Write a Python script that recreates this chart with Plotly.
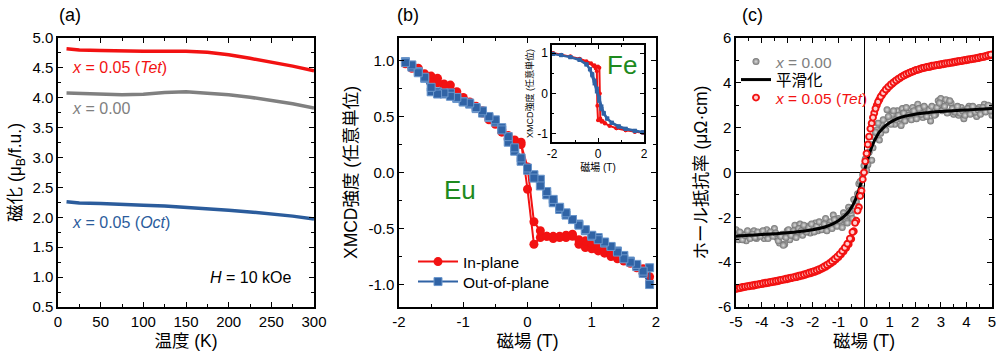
import plotly.graph_objects as go

FONT = "Liberation Sans, Arial, Noto Sans CJK JP, sans-serif"

# ---------------- Panel (a): magnetization vs temperature ----------------
temp_K = [10, 25, 50, 75, 100, 125, 150, 175, 200, 225, 250, 275, 300]
m_tet = [4.82, 4.80, 4.79, 4.78, 4.78, 4.78, 4.78, 4.76, 4.72, 4.66, 4.60, 4.53, 4.45]
m_x000 = [4.08, 4.07, 4.06, 4.05, 4.06, 4.09, 4.10, 4.08, 4.05, 4.01, 3.96, 3.90, 3.83]
m_oct = [2.26, 2.24, 2.23, 2.21, 2.20, 2.19, 2.17, 2.15, 2.12, 2.09, 2.06, 2.02, 1.97]
a_xticks = [0, 50, 100, 150, 200, 250, 300]
a_xticktext = ["0", "50", "100", "150", "200", "250", "300"]
a_yticks = [0.5, 1.0, 1.5, 2.0, 2.5, 3.0, 3.5, 4.0, 4.5, 5.0]
a_yticktext = ["0.5", "1.0", "1.5", "2.0", "2.5", "3.0", "3.5", "4.0", "4.5", "5.0"]

# ---------------- Panel (b): Eu XMCD hysteresis ----------------
field_b_up = [-1.9, -1.8, -1.7, -1.6, -1.5, -1.4, -1.3, -1.2, -1.1, -1.0, -0.9, -0.8, -0.7,
              -0.6, -0.5, -0.4, -0.3, -0.2, -0.1, 0.0, 0.1, 0.2, 0.3, 0.4, 0.5, 0.6, 0.7,
              0.8, 0.9, 1.0, 1.1, 1.2, 1.3, 1.4, 1.5, 1.6, 1.7, 1.8, 1.9]
field_b_down = [1.9, 1.8, 1.7, 1.6, 1.5, 1.4, 1.3, 1.2, 1.1, 1.0, 0.9, 0.8, 0.7, 0.6, 0.5,
                0.4, 0.3, 0.2, 0.1, 0.0, -0.1, -0.2, -0.3, -0.4, -0.5, -0.6, -0.7, -0.8,
                -0.9, -1.0, -1.1, -1.2, -1.3, -1.4, -1.5, -1.6, -1.7, -1.8, -1.9]
eu_in_up = [0.99, 0.95, 0.93, 0.88, 0.86, 0.84, 0.79, 0.78, 0.72, 0.67, 0.63, 0.59, 0.55,
            0.50, 0.44, 0.36, 0.33, 0.29, 0.27, -0.15, -0.64, -0.58, -0.57, -0.57, -0.58,
            -0.56, -0.55, -0.64, -0.67, -0.68, -0.70, -0.72, -0.75, -0.77, -0.79, -0.81,
            -0.83, -0.86, -0.98]
eu_in_down = [-0.93, -0.90, -0.85, -0.80, -0.78, -0.74, -0.72, -0.69, -0.65, -0.63, -0.61,
              -0.60, -0.57, -0.58, -0.57, -0.59, -0.57, -0.52, -0.44, 0.05, 0.25, 0.27,
              0.30, 0.38, 0.43, 0.47, 0.53, 0.57, 0.62, 0.65, 0.68, 0.73, 0.76, 0.80, 0.80,
              0.86, 0.90, 0.93, 0.97]
eu_out_up = [0.99, 0.94, 0.90, 0.84, 0.72, 0.72, 0.70, 0.71, 0.66, 0.63, 0.61, 0.57, 0.53,
             0.49, 0.45, 0.40, 0.27, 0.19, 0.10, 0.02, -0.02, -0.06, -0.20, -0.27, -0.33,
             -0.38, -0.42, -0.46, -0.52, -0.57, -0.58, -0.63, -0.66, -0.70, -0.74, -0.79,
             -0.84, -0.90, -1.00]
eu_out_down = [-0.85, -0.88, -0.82, -0.80, -0.77, -0.71, -0.66, -0.62, -0.60, -0.56, -0.51,
               -0.47, -0.42, -0.36, -0.31, -0.24, -0.17, -0.12, -0.05, 0.04, 0.13, 0.22,
               0.32, 0.38, 0.47, 0.50, 0.55, 0.58, 0.62, 0.63, 0.67, 0.68, 0.71, 0.70, 0.76,
               0.85, 0.89, 0.96, 0.98]
b_xticks = [-2, -1, 0, 1, 2]
b_xticktext = ["-2", "-1", "0", "1", "2"]
b_yticks = [-1.0, -0.5, 0.0, 0.5, 1.0]
b_yticktext = ["-1.0", "-0.5", "0.0", "0.5", "1.0"]

# ---------------- Inset: Fe XMCD hysteresis ----------------
fe_in_x = [-1.95, -1.6, -1.2, -0.8, -0.5, -0.3, -0.15, 0.0, 0.06, 0.08, 0.1, 0.2, 0.3, 0.5,
           0.8, 1.2, 1.6, 1.95,
           1.95, 1.6, 1.2, 0.8, 0.5, 0.3, 0.15, 0.0, -0.03, -0.05, -0.1, -0.2, -0.4, -0.8,
           -1.2, -1.6, -1.95]
fe_in_y = [1.0, 0.96, 0.92, 0.86, 0.80, 0.75, 0.70, 0.67, 0.64, 0.0, -0.62, -0.68, -0.73,
           -0.80, -0.86, -0.91, -0.94, -0.97,
           -0.97, -0.95, -0.91, -0.86, -0.80, -0.74, -0.70, -0.66, -0.30, 0.55, 0.62, 0.68,
           0.75, 0.85, 0.91, 0.95, 0.99]
fe_out_x = [-1.95, -1.6, -1.2, -0.8, -0.5, -0.35, -0.25, -0.15, -0.05, 0.05, 0.15, 0.25, 0.4,
            0.6, 0.9, 1.2, 1.6, 1.95,
            1.95, 1.6, 1.2, 0.9, 0.6, 0.4, 0.25, 0.15, 0.05, -0.05, -0.15, -0.25, -0.35,
            -0.5, -0.8, -1.2, -1.6, -1.95]
fe_out_y = [0.98, 0.95, 0.90, 0.83, 0.72, 0.60, 0.45, 0.25, 0.05, -0.18, -0.38, -0.50,
            -0.62, -0.72, -0.81, -0.87, -0.92, -0.96,
            -0.96, -0.93, -0.88, -0.82, -0.73, -0.62, -0.48, -0.32, -0.10, 0.12, 0.32,
            0.48, 0.60, 0.72, 0.84, 0.90, 0.95, 0.98]
in_xticks = [-2, 0, 2]
in_xticktext = ["-2", "0", "2"]
in_yticks = [-1, 0, 1]
in_yticktext = ["-1", "0", "1"]

# ---------------- Panel (c): Hall resistivity ----------------
field_c_a = [-5.0, -4.9, -4.8, -4.7, -4.6, -4.5, -4.4, -4.3, -4.2, -4.1, -4.0, -3.9, -3.8,
             -3.7, -3.6, -3.5, -3.4, -3.3, -3.2, -3.1, -3.0, -2.9, -2.8, -2.7, -2.6, -2.5,
             -2.4, -2.3, -2.2, -2.1, -2.0, -1.9, -1.8, -1.7, -1.6, -1.5, -1.4, -1.3, -1.2,
             -1.1, -1.0, -0.9, -0.8, -0.7, -0.6, -0.5, -0.4, -0.3, -0.2, -0.1, 0.0, 0.1,
             0.2, 0.3, 0.4, 0.5, 0.6, 0.7, 0.8, 0.9, 1.0, 1.1, 1.2, 1.3, 1.4, 1.5, 1.6,
             1.7, 1.8, 1.9, 2.0, 2.1, 2.2, 2.3, 2.4, 2.5, 2.6, 2.7, 2.8, 2.9, 3.0, 3.1,
             3.2, 3.3, 3.4, 3.5, 3.6, 3.7, 3.8, 3.9, 4.0, 4.1, 4.2, 4.3, 4.4, 4.5, 4.6,
             4.7, 4.8, 4.9, 5.0]
field_c_b = [-4.95, -4.85, -4.75, -4.65, -4.55, -4.45, -4.35, -4.25, -4.15, -4.05, -3.95,
             -3.85, -3.75, -3.65, -3.55, -3.45, -3.35, -3.25, -3.15, -3.05, -2.95, -2.85,
             -2.75, -2.65, -2.55, -2.45, -2.35, -2.25, -2.15, -2.05, -1.95, -1.85, -1.75,
             -1.65, -1.55, -1.45, -1.35, -1.25, -1.15, -1.05, -0.95, -0.85, -0.75, -0.65,
             -0.55, -0.45, -0.35, -0.25, -0.15, -0.05, 0.05, 0.15, 0.25, 0.35, 0.45, 0.55,
             0.65, 0.75, 0.85, 0.95, 1.05, 1.15, 1.25, 1.35, 1.45, 1.55, 1.65, 1.75, 1.85,
             1.95, 2.05, 2.15, 2.25, 2.35, 2.45, 2.55, 2.65, 2.75, 2.85, 2.95, 3.05, 3.15,
             3.25, 3.35, 3.45, 3.55, 3.65, 3.75, 3.85, 3.95, 4.05, 4.15, 4.25, 4.35, 4.45,
             4.55, 4.65, 4.75, 4.85, 4.95]
rho_tet_a = [-5.20, -5.17, -5.15, -5.12, -5.10, -5.08, -5.06, -5.05, -5.02, -5.00, -4.98,
             -4.96, -4.94, -4.92, -4.90, -4.88, -4.86, -4.83, -4.80, -4.78, -4.76, -4.73,
             -4.71, -4.68, -4.66, -4.63, -4.60, -4.57, -4.53, -4.50, -4.46, -4.43, -4.38,
             -4.33, -4.27, -4.21, -4.14, -4.06, -3.98, -3.88, -3.78, -3.66, -3.52, -3.37,
             -3.20, -2.97, -2.62, -2.15, -1.55, -0.82, 0.0, 0.85, 1.60, 2.20, 2.65, 3.00,
             3.25, 3.45, 3.60, 3.73, 3.85, 3.95, 4.05, 4.13, 4.21, 4.28, 4.34, 4.40, 4.45,
             4.50, 4.55, 4.58, 4.62, 4.65, 4.68, 4.70, 4.72, 4.75, 4.77, 4.79, 4.81, 4.83,
             4.85, 4.87, 4.89, 4.91, 4.93, 4.95, 4.97, 4.99, 5.01, 5.03, 5.05, 5.07, 5.09,
             5.11, 5.14, 5.16, 5.19, 5.22, 5.25]
rho_tet_b = [-5.16, -5.14, -5.11, -5.09, -5.07, -5.05, -5.03, -5.01, -4.99, -4.97, -4.94,
             -4.92, -4.91, -4.88, -4.86, -4.84, -4.82, -4.79, -4.77, -4.74, -4.72, -4.69,
             -4.67, -4.64, -4.61, -4.58, -4.55, -4.51, -4.47, -4.44, -4.40, -4.36, -4.31,
             -4.26, -4.19, -4.12, -4.05, -3.96, -3.86, -3.76, -3.64, -3.50, -3.36, -3.18,
             -2.95, -2.66, -2.25, -1.70, -1.05, -0.30, 0.50, 1.25, 1.95, 2.45, 2.85, 3.15,
             3.38, 3.55, 3.70, 3.82, 3.93, 4.02, 4.11, 4.19, 4.26, 4.33, 4.39, 4.44, 4.49,
             4.53, 4.58, 4.61, 4.65, 4.68, 4.71, 4.73, 4.76, 4.78, 4.80, 4.82, 4.84, 4.86,
             4.88, 4.90, 4.92, 4.94, 4.96, 4.98, 5.00, 5.02, 5.04, 5.06, 5.08, 5.10, 5.12,
             5.15, 5.17, 5.20, 5.23, 5.26]
rho_x000_a = [-2.55, -3.00, -2.90, -2.75, -3.05, -2.70, -2.85, -2.60, -2.95, -2.80, -2.70,
              -2.95, -2.55, -2.85, -2.70, -2.50, -2.90, -3.15, -2.75, -3.20, -2.60, -3.00,
              -2.75, -2.35, -2.65, -2.30, -2.80, -2.55, -2.40, -2.70, -2.50, -2.25, -2.60,
              -2.35, -2.50, -2.05, -2.45, -2.20, -1.90, -2.35, -2.05, -2.30, -1.80, -2.10,
              -1.55, -1.85, -1.20, -1.30, -0.50, -0.70, 0.30, 0.10, 0.90, 0.55, 1.60, 1.90,
              1.45, 2.10, 2.00, 2.80, 2.35, 2.60, 2.15, 2.75, 2.40, 2.85, 2.30, 2.65, 2.45,
              2.90, 2.55, 3.05, 2.70, 2.45, 2.85, 2.65, 2.30, 2.75, 2.60, 3.20, 3.30, 2.85,
              3.25, 2.70, 3.10, 2.60, 2.80, 2.55, 2.90, 2.40, 2.70, 2.95, 2.65, 2.85, 2.50,
              2.90, 2.75, 3.05, 2.80, 2.95, 2.55]
rho_x000_b = [-2.80, -2.65, -3.00, -2.80, -2.60, -2.95, -2.75, -2.90, -2.65, -2.85, -2.60,
              -2.80, -2.95, -2.65, -2.85, -2.70, -3.05, -2.85, -3.25, -2.90, -2.55, -2.80,
              -2.60, -2.90, -2.50, -2.60, -2.35, -2.65, -2.45, -2.30, -2.65, -2.40, -2.20,
              -2.55, -2.30, -2.60, -2.35, -2.50, -2.10, -2.40, -2.15, -2.45, -1.95, -2.25,
              -1.70, -2.05, -1.50, -0.95, -0.40, -0.10, 0.60, 0.35, 1.25, 1.10, 1.80, 2.20,
              1.75, 2.35, 1.90, 2.50, 2.15, 2.75, 2.35, 2.55, 2.10, 2.65, 2.90, 2.55, 2.35,
              2.75, 2.40, 2.85, 2.60, 2.95, 2.50, 2.80, 2.95, 2.55, 2.90, 3.10, 2.75, 2.95,
              2.65, 3.20, 2.85, 2.70, 2.95, 2.65, 2.75, 2.55, 2.85, 2.60, 2.95, 2.70, 2.80,
              2.60, 2.90, 2.70, 3.00, 2.75]
smooth_x = [-5.0, -4.5, -4.0, -3.5, -3.0, -2.5, -2.0, -1.5, -1.2, -1.0, -0.8, -0.6, -0.5,
            -0.4, -0.3, -0.2, -0.1, 0.0, 0.1, 0.2, 0.3, 0.4, 0.5, 0.6, 0.8, 1.0, 1.2, 1.5,
            2.0, 2.5, 3.0, 3.5, 4.0, 4.5, 5.0]
smooth_y = [-2.84, -2.80, -2.77, -2.73, -2.69, -2.63, -2.55, -2.42, -2.28, -2.15, -1.98,
            -1.75, -1.58, -1.38, -1.12, -0.78, -0.40, 0.0, 0.42, 0.80, 1.13, 1.40, 1.62,
            1.80, 2.05, 2.22, 2.35, 2.48, 2.60, 2.67, 2.72, 2.76, 2.79, 2.82, 2.85]
c_xticks = [-5, -4, -3, -2, -1, 0, 1, 2, 3, 4, 5]
c_xticktext = ["-5", "-4", "-3", "-2", "-1", "0", "1", "2", "3", "4", "5"]
c_yticks = [-6, -4, -2, 0, 2, 4, 6]
c_yticktext = ["-6", "-4", "-2", "0", "2", "4", "6"]

# ---------------- colours ----------------
RED = "#f21212"
GRAY = "#808080"
BLUE_A = "#2b5c9c"
BLUE_B = "#3063a5"
GREEN = "#1e8a1e"

fig = go.Figure()

# Panel (a)
fig.add_trace(go.Scatter(x=temp_K, y=m_tet, mode="lines", line=dict(color=RED, width=3.5),
                         xaxis="x", yaxis="y", showlegend=False))
fig.add_trace(go.Scatter(x=temp_K, y=m_x000, mode="lines", line=dict(color=GRAY, width=3.5),
                         xaxis="x", yaxis="y", showlegend=False))
fig.add_trace(go.Scatter(x=temp_K, y=m_oct, mode="lines", line=dict(color=BLUE_A, width=3.5),
                         xaxis="x", yaxis="y", showlegend=False))

# Panel (b)
fig.add_trace(go.Scatter(x=field_b_up + field_b_down, y=eu_in_up + eu_in_down,
                         mode="lines+markers", name="In-plane",
                         line=dict(color=RED, width=2),
                         marker=dict(symbol="circle", size=9, color=RED),
                         xaxis="x2", yaxis="y2", legend="legend"))
fig.add_trace(go.Scatter(x=field_b_up + field_b_down, y=eu_out_up + eu_out_down,
                         mode="lines+markers", name="Out-of-plane",
                         line=dict(color=BLUE_B, width=2),
                         marker=dict(symbol="square", size=8, color=BLUE_B,
                                     line=dict(color="#6b97cc", width=1)),
                         xaxis="x2", yaxis="y2", legend="legend3"))

# Inset
fig.add_trace(go.Scatter(x=fe_in_x, y=fe_in_y, mode="lines+markers",
                         line=dict(color=RED, width=2),
                         marker=dict(symbol="circle", size=4, color=RED),
                         xaxis="x3", yaxis="y3", showlegend=False))
fig.add_trace(go.Scatter(x=fe_out_x, y=fe_out_y, mode="lines+markers",
                         line=dict(color=BLUE_B, width=2.5),
                         marker=dict(symbol="square", size=4, color=BLUE_B),
                         xaxis="x3", yaxis="y3", showlegend=False))

# Panel (c)
fig.add_trace(go.Scatter(x=field_c_a + field_c_b, y=rho_x000_a + rho_x000_b, mode="markers",
                         name='<span style="color:#808080"><i>x</i> = 0.00</span>',
                         marker=dict(symbol="circle", size=7, color="#737373",
                                     gradient=dict(type="radial", color="#dcdcdc")),
                         xaxis="x4", yaxis="y4", legend="legend2"))
fig.add_trace(go.Scatter(x=smooth_x, y=smooth_y, mode="lines", line=dict(color="black", width=3),
                         line_shape="spline", name="平滑化",
                         xaxis="x4", yaxis="y4", legend="legend4"))
fig.add_trace(go.Scatter(x=field_c_a + field_c_b, y=rho_tet_a + rho_tet_b, mode="markers",
                         name='<span style="color:#f21212"><i>x</i> = 0.05 (<i>Tet</i>)</span>',
                         marker=dict(symbol="circle", size=6, color="#ffd0d0",
                                     line=dict(color=RED, width=1.9)),
                         xaxis="x4", yaxis="y4", legend="legend5"))

tickfont = dict(family=FONT, size=15, color="black")
titlefont = dict(family=FONT, size=17.5, color="black")


def axis(domain, rng, tickvals, ticktext, minor_dtick, anchor, title, standoff,
         tfont=tickfont, ttfont=titlefont, ticklen=5, minorlen=3, zeroline=False):
    return dict(domain=domain, range=rng, anchor=anchor, tickmode="array",
                tickvals=tickvals, ticktext=ticktext, ticks="inside", ticklen=ticklen,
                tickwidth=1.3, tickcolor="black", showline=True, linecolor="black",
                linewidth=1.5, mirror="allticks", showgrid=False, zeroline=zeroline,
                zerolinecolor="black", zerolinewidth=1.2,
                minor=dict(dtick=minor_dtick, ticks="inside", ticklen=minorlen,
                           tickwidth=1.2, tickcolor="black", showgrid=False),
                tickfont=tfont, title=dict(text=title, font=ttfont, standoff=standoff),
                automargin=False)


def one_legend(x, yc, size=15.5):
    return dict(x=x, y=1 - yc / 362, xanchor="left", yanchor="middle",
                bgcolor="rgba(0,0,0,0)", borderwidth=0,
                font=dict(family=FONT, size=size, color="black"), itemwidth=30)


YDOM = [0.152, 0.895]
layout = dict(
    width=1000, height=362, autosize=False,
    margin=dict(l=0, r=0, t=0, b=0),
    paper_bgcolor="white", plot_bgcolor="white",
    font=dict(family=FONT, color="black"),
    xaxis=axis([0.058, 0.314], [0, 300], a_xticks, a_xticktext, 25, "y",
               "温度 (K)", 6),
    yaxis=axis(YDOM, [0.5, 5.0], a_yticks, a_yticktext, 0.25, "x",
               "磁化 (μ<sub>B</sub>/f.u.)", 6),
    xaxis2=axis([0.399, 0.656], [-2, 2], b_xticks, b_xticktext, 0.5, "y2", "磁場 (T)", 6),
    yaxis2=axis(YDOM, [-1.2, 1.2], b_yticks, b_yticktext, 0.25, "x2",
                "XMCD強度 (任意単位)", 6),
    xaxis3=axis([0.552, 0.644], [-2, 2], in_xticks, in_xticktext, 1, "y3", "磁場 (T)", 2,
                tfont=dict(family=FONT, size=12, color="black"),
                ttfont=dict(family=FONT, size=10, color="black"), ticklen=4, minorlen=2),
    yaxis3=axis([0.6077, 0.8757], [-1.2, 1.2], in_yticks, in_yticktext, 0.5, "x3",
                "XMCD強度 (任意単位)", 2,
                tfont=dict(family=FONT, size=12, color="black"),
                ttfont=dict(family=FONT, size=9, color="black"), ticklen=4, minorlen=2),
    xaxis4=axis([0.736, 0.992], [-5, 5], c_xticks, c_xticktext, 0.5, "y4", "磁場 (T)", 6,
                zeroline=True),
    yaxis4=axis(YDOM, [-6, 6], c_yticks, c_yticktext, 1, "x4", "ホール抵抗率 (μΩ·cm)", 6,
                zeroline=True),
    legend=dict(one_legend(0.413, 262), itemwidth=40),
    legend3=dict(one_legend(0.413, 282), itemwidth=40),
    legend2=one_legend(0.736, 62),
    legend4=one_legend(0.736, 80),
    legend5=one_legend(0.736, 98),
    showlegend=True,
)
fig.update_layout(**layout)

ann_font = dict(family=FONT, size=16)
annotations = [
    dict(text="(a)", x=0.07, y=1 - 15 / 362, font=dict(family=FONT, size=18)),
    dict(text="(b)", x=0.408, y=1 - 15 / 362, font=dict(family=FONT, size=18)),
    dict(text="(c)", x=0.752, y=1 - 15 / 362, font=dict(family=FONT, size=18)),
    dict(text="<i>x</i> = 0.05 (<i>Tet</i>)", x=0.070, y=1 - 67 / 362, xanchor="left",
         font=dict(ann_font, color=RED)),
    dict(text="<i>x</i> = 0.00", x=0.070, y=1 - 108 / 362, xanchor="left",
         font=dict(ann_font, color=GRAY)),
    dict(text="<i>x</i> = 0.05 (<i>Oct</i>)", x=0.070, y=1 - 222 / 362, xanchor="left",
         font=dict(ann_font, color=BLUE_A)),
    dict(text="<i>H</i> = 10 kOe", x=0.250, y=1 - 277 / 362,
         font=dict(ann_font, color="black")),
    dict(text="Eu", x=0.460, y=1 - 190 / 362, font=dict(family=FONT, size=26, color=GREEN)),
    dict(text="Fe", x=0.622, y=1 - 65 / 362, font=dict(family=FONT, size=26, color=GREEN)),
]
for a in annotations:
    a.update(xref="paper", yref="paper", showarrow=False)
    a.setdefault("xanchor", "center")
    a.setdefault("yanchor", "middle")
fig.update_layout(annotations=annotations)

fig.write_html("out.html", config={"displayModeBar": False},
               post_script="document.body.style.margin='0';")
